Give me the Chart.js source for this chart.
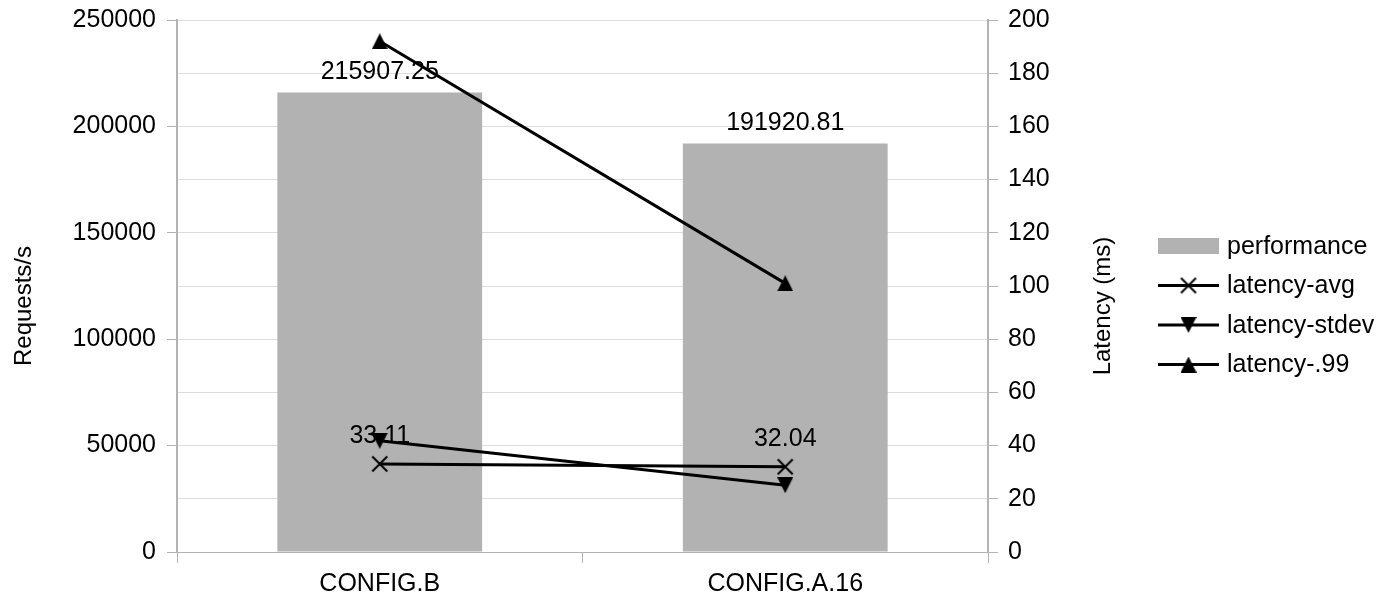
<!DOCTYPE html>
<html>
<head>
<meta charset="utf-8">
<script src="https://cdn.jsdelivr.net/npm/chart.js@4/dist/chart.umd.min.js"></script>
<style>
  html, body { margin: 0; padding: 0; background: #fff; }
  #wrap { width: 1384px; height: 599px; }
</style>
</head>
<body>
<div id="wrap"><canvas id="c" width="1384" height="599"></canvas></div>
<script>
// Benchmark results: throughput (bars, left axis) and latency (lines, right axis)
const categories = ['CONFIG.B', 'CONFIG.A.16'];
const performance = [215907.25, 191920.81];
const latencyAvg = [33.11, 32.04];
const latencyStdev = [41.8, 25.1];
const latency99 = [192.0, 101.0];

const leftTitle = 'Requests/s';
const rightTitle = 'Latency (ms)';
const FONT = '"Liberation Sans", Arial, sans-serif';

// Small marker bitmaps used both on the lines and in the legend
function makeMarker(kind) {
  const s = kind === 'x' ? 18 : 16;
  const c = document.createElement('canvas');
  c.width = s; c.height = s;
  const g = c.getContext('2d');
  g.fillStyle = '#000';
  g.strokeStyle = '#000';
  g.beginPath();
  if (kind === 'up') {
    g.moveTo(s / 2, 0); g.lineTo(s, s); g.lineTo(0, s); g.closePath(); g.fill();
  } else if (kind === 'down') {
    g.moveTo(0, 0); g.lineTo(s, 0); g.lineTo(s / 2, s); g.closePath(); g.fill();
  } else {
    g.lineWidth = 2;
    g.moveTo(1.5, 1.5); g.lineTo(s - 1.5, s - 1.5);
    g.moveTo(s - 1.5, 1.5); g.lineTo(1.5, s - 1.5);
    g.stroke();
  }
  return c;
}
const markX = makeMarker('x');
const markDown = makeMarker('down');
const markUp = makeMarker('up');

function lineSet(label, data, marker) {
  return {
    type: 'line', label, data, yAxisID: 'y1', order: 0,
    borderColor: '#000', borderWidth: 3, tension: 0, fill: false,
    pointStyle: marker, pointRadius: 8, pointHoverRadius: 8,
    backgroundColor: '#000'
  };
}

// Keep the plot frame fixed: no extra room reserved for half-height tick labels
function noEdgePadding(s) {
  s.paddingTop = 0; s.paddingBottom = 0;
  s.paddingLeft = 0; s.paddingRight = 0;
}

// Value labels: drawn right after the bars so the lines pass over them
const valueLabels = {
  id: 'valueLabels',
  afterDatasetDraw(chart, args) {
    if (args.index !== 0) return;
    const ctx = chart.ctx;
    ctx.save();
    ctx.font = '25px ' + FONT;
    ctx.fillStyle = '#000';
    ctx.textAlign = 'center';
    ctx.textBaseline = 'alphabetic';
    chart.getDatasetMeta(0).data.forEach((bar, i) => {
      ctx.fillText(String(chart.data.datasets[0].data[i]), bar.x, bar.y - 13.5);
    });
    chart.getDatasetMeta(1).data.forEach((pt, i) => {
      ctx.fillText(String(chart.data.datasets[1].data[i]), pt.x, pt.y - 21);
    });
    ctx.restore();
  }
};

// Axis titles and the legend on the right
const extras = {
  id: 'extras',
  afterDraw(chart) {
    const ctx = chart.ctx;
    const a = chart.chartArea;
    const midY = (a.top + a.bottom) / 2 + 20;
    ctx.save();
    ctx.fillStyle = '#000';
    ctx.font = '24px ' + FONT;
    ctx.textAlign = 'center';
    ctx.textBaseline = 'middle';
    [[24, leftTitle], [a.right + 115, rightTitle]].forEach(([x, t]) => {
      ctx.save();
      ctx.translate(x, midY);
      ctx.rotate(-Math.PI / 2);
      ctx.fillText(t, 0, 0);
      ctx.restore();
    });

    const x0 = a.right + 170, x1 = x0 + 61, tx = x1 + 8;
    let y = 246;
    ctx.font = '25px ' + FONT;
    ctx.textAlign = 'left';
    chart.data.datasets.forEach((ds) => {
      if (ds.type === 'bar') {
        ctx.fillStyle = ds.backgroundColor;
        ctx.fillRect(x0, y - 8, x1 - x0, 16);
      } else {
        ctx.strokeStyle = ds.borderColor;
        ctx.lineWidth = ds.borderWidth;
        ctx.beginPath();
        ctx.moveTo(x0, y); ctx.lineTo(x1, y);
        ctx.stroke();
        const m = ds.pointStyle;
        ctx.drawImage(m, (x0 + x1) / 2 - m.width / 2, y - m.height / 2);
      }
      ctx.fillStyle = '#000';
      ctx.fillText(ds.label, tx, y + 1);
      y += 39.5;
    });
    ctx.restore();
  }
};

new Chart(document.getElementById('c'), {
  data: {
    labels: categories,
    datasets: [
      {
        type: 'bar', label: 'performance', data: performance, yAxisID: 'y', order: 1,
        backgroundColor: '#b2b2b2', borderWidth: 0,
        barPercentage: 0.505, categoryPercentage: 1
      },
      lineSet('latency-avg', latencyAvg, markX),
      lineSet('latency-stdev', latencyStdev, markDown),
      lineSet('latency-.99', latency99, markUp)
    ]
  },
  options: {
    responsive: false,
    devicePixelRatio: 1,
    animation: false,
    events: [],
    layout: { padding: { top: 20, left: 0, right: 0, bottom: 0 } },
    plugins: { legend: { display: false }, tooltip: { enabled: false } },
    scales: {
      x: {
        offset: true,
        grid: { offset: true, drawOnChartArea: false, drawTicks: true, tickLength: 11, color: '#b3b3b3' },
        border: { color: '#b3b3b3', width: 1 },
        ticks: { color: '#000', font: { family: FONT, size: 25 }, padding: 6, maxRotation: 0 },
        afterFit(s) { s.height = 47; noEdgePadding(s); }
      },
      y: {
        position: 'left', min: 0, max: 250000,
        grid: { color: '#b3b3b3', tickLength: 10, lineWidth: 1 },
        border: { color: '#b3b3b3', width: 2 },
        ticks: { stepSize: 50000, color: '#000', font: { family: FONT, size: 25 }, padding: 11,
                 callback: v => String(v) },
        afterFit(s) { s.width = 177; noEdgePadding(s); }
      },
      y1: {
        position: 'right', min: 0, max: 200, z: -1,
        grid: { color: '#dddddd', tickColor: '#b3b3b3', tickLength: 10, lineWidth: 1 },
        border: { color: '#b3b3b3', width: 2 },
        ticks: { stepSize: 20, color: '#000', font: { family: FONT, size: 25 }, padding: 10,
                 callback: v => String(v) },
        afterFit(s) { s.width = 396; noEdgePadding(s); }
      }
    }
  },
  plugins: [valueLabels, extras]
});
</script>
</body>
</html>
